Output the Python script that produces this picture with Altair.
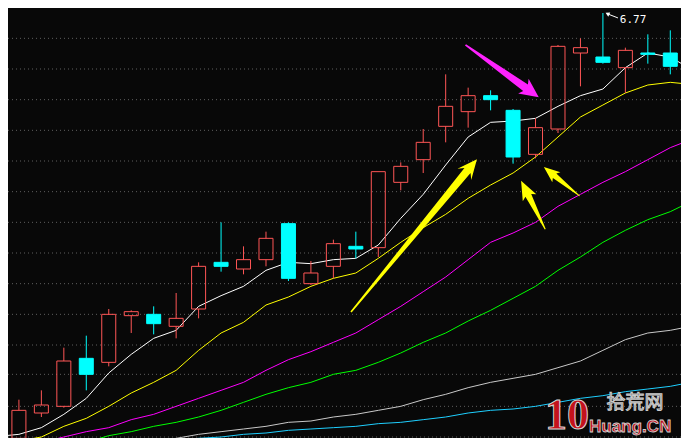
import altair as alt
import pandas as pd

# ---------------- data ----------------
candle_idx = list(range(30))
opens  = [3.58, 3.77, 3.82, 4.18, 4.15, 4.50, 4.51, 4.42, 4.55, 4.90,
          4.85, 4.92, 5.19, 4.74, 4.87, 5.02, 5.01, 5.50, 5.67, 5.92,
          6.03, 6.15, 6.04, 5.71, 5.90, 6.47, 6.44, 6.36, 6.47, 6.47]
closes = [3.79, 3.83, 4.16, 4.06, 4.51, 4.53, 4.44, 4.48, 4.87, 4.87,
          4.92, 5.08, 4.78, 4.82, 5.04, 5.00, 5.58, 5.62, 5.80, 6.07,
          6.15, 6.12, 5.69, 5.91, 6.52, 6.51, 6.40, 6.49, 6.46, 6.37]
highs  = [3.87, 3.94, 4.26, 4.35, 4.55, 4.54, 4.57, 4.67, 4.90, 5.20,
          5.02, 5.13, 5.20, 4.91, 5.07, 5.13, 5.58, 5.65, 5.90, 6.31,
          6.21, 6.19, 6.05, 5.98, 6.53, 6.58, 6.77, 6.51, 6.61, 6.64]
lows   = [3.57, 3.74, 3.81, 3.94, 4.12, 4.37, 4.36, 4.33, 4.48, 4.83,
          4.81, 4.87, 4.76, 4.73, 4.78, 4.93, 4.94, 5.44, 5.57, 5.80,
          5.91, 6.04, 5.64, 5.68, 5.87, 6.22, 6.39, 6.17, 6.39, 6.31]

# moving averages: left edge, candles 0..29, right edge
ma_idx = [-0.614] + list(range(30)) + [29.605]
ma_white   = [3.60, 3.61, 3.66, 3.76, 3.88, 4.07, 4.21, 4.33, 4.39, 4.57, 4.65,
              4.72, 4.84, 4.90, 4.89, 4.92, 4.93, 5.03, 5.23, 5.41, 5.63,
              5.84, 5.95, 5.96, 5.98, 6.07, 6.15, 6.20, 6.36, 6.47, 6.44, 6.38]
ma_yellow  = [3.55, 3.56, 3.59, 3.67, 3.73, 3.82, 3.92, 4.00, 4.09, 4.24, 4.37,
              4.45, 4.58, 4.64, 4.72, 4.78, 4.82, 4.93, 5.05, 5.16, 5.26,
              5.38, 5.48, 5.57, 5.69, 5.84, 5.99, 6.08, 6.17, 6.23, 6.25, 6.24]
ma_magenta = [3.52, 3.54, 3.55, 3.59, 3.63, 3.66, 3.72, 3.76, 3.82, 3.88, 3.94,
              4.00, 4.09, 4.17, 4.23, 4.30, 4.37, 4.47, 4.57, 4.68, 4.79,
              4.92, 5.05, 5.12, 5.20, 5.32, 5.41, 5.50, 5.58, 5.67, 5.76, 5.80]
ma_green   = [3.49, 3.50, 3.52, 3.54, 3.55, 3.60, 3.63, 3.67, 3.70, 3.74, 3.79,
              3.85, 3.91, 3.96, 4.00, 4.06, 4.09, 4.15, 4.22, 4.30, 4.37,
              4.46, 4.54, 4.63, 4.72, 4.84, 4.94, 5.05, 5.14, 5.22, 5.28, 5.33]
ma_gray    = [3.48, 3.49, 3.50, 3.51, 3.52, 3.53, 3.54, 3.55, 3.58, 3.61, 3.63,
              3.65, 3.67, 3.70, 3.71, 3.74, 3.76, 3.79, 3.82, 3.87, 3.91,
              3.96, 4.00, 4.03, 4.06, 4.11, 4.16, 4.24, 4.32, 4.37, 4.39, 4.41]
ma_cyan    = [3.48, 3.49, 3.50, 3.52, 3.52, 3.53, 3.55, 3.55, 3.57, 3.58, 3.59,
              3.61, 3.62, 3.64, 3.65, 3.66, 3.67, 3.69, 3.70, 3.72, 3.74,
              3.77, 3.79, 3.80, 3.82, 3.85, 3.88, 3.90, 3.93, 3.95, 3.97, 3.99]
ma_names  = ["MA5", "MA10", "MA20", "MA30", "MA60", "MA120"]

grid_prices = [6.58, 6.35, 6.12, 5.89, 5.66, 5.43, 5.20, 4.97,
               4.74, 4.51, 4.28, 4.06, 3.82, 3.59]

high_label = ["6.77"]

# ---------------- styling ----------------
BG = "#080808"
RED = "#ff5656"
CYAN = "#00ffff"
MA_COLORS = ["#ffffff", "#ffff00", "#ff00ff", "#00ff00", "#c8c8c8", "#1ecfff"]
W, H = 673, 430
xs = alt.Scale(domain=[-0.2632, 29.254], nice=False, zero=False)
ys = alt.Scale(domain=[3.5825, 6.8075], nice=False, zero=False)

candles = pd.DataFrame({"i": candle_idx, "open": opens, "high": highs,
                        "low": lows, "close": closes})
candles["up"] = candles["close"] >= candles["open"]
candles["top"] = candles[["open", "close"]].max(axis=1)
candles["bot"] = candles[["open", "close"]].min(axis=1)

ma = pd.DataFrame({"i": ma_idx, "MA5": ma_white, "MA10": ma_yellow,
                   "MA20": ma_magenta, "MA30": ma_green, "MA60": ma_gray,
                   "MA120": ma_cyan}).melt("i", var_name="ma", value_name="v")

X = alt.X("i:Q", scale=xs, axis=None)

grid = alt.Chart(pd.DataFrame({"p": grid_prices})).mark_rule(
    color="#5e5e5e", strokeWidth=1, strokeDash=[1, 3]
).encode(y=alt.Y("p:Q", scale=ys, axis=None))

lines = alt.Chart(ma).mark_line(strokeWidth=1, clip=True).encode(
    x=X,
    y=alt.Y("v:Q", scale=ys, axis=None),
    color=alt.Color("ma:N", scale=alt.Scale(domain=ma_names, range=MA_COLORS), legend=None),
    order="i:Q",
)

col = alt.condition("datum.up", alt.value(RED), alt.value(CYAN))
base = alt.Chart(candles)
wick_hi = base.mark_rule(strokeWidth=1).encode(
    x=X, y=alt.Y("high:Q", scale=ys, axis=None), y2="top:Q", color=col)
wick_lo = base.mark_rule(strokeWidth=1).encode(
    x=X, y=alt.Y("bot:Q", scale=ys, axis=None), y2="low:Q", color=col)
bodies = base.mark_bar(width=14, strokeWidth=1).encode(
    x=X, y=alt.Y("open:Q", scale=ys, axis=None), y2="close:Q",
    stroke=col,
    fill=alt.condition("datum.up", alt.value("transparent"), alt.value(CYAN)),
)


def arrow(i, p, path, length, angle, color):
    return alt.Chart(pd.DataFrame({"i": [i], "p": [p]})).mark_point(
        shape=path, size=length * length, angle=angle, filled=True,
        color=color, opacity=1, strokeWidth=0,
    ).encode(x=X, y=alt.Y("p:Q", scale=ys, axis=None))


big_path = "M0,-1L0.09,-0.8L0.04,-0.85L0.008,1L-0.008,1L-0.04,-0.85L-0.09,-0.8Z"
small_path = "M0,-1L0.28,-0.3L0.12,-0.4L0.02,1L-0.02,1L-0.12,-0.4L-0.28,-0.3Z"
mag_path = "M0,-1L0.2,-0.58L0.09,-0.64L0.02,1L-0.02,1L-0.09,-0.64L-0.2,-0.58Z"

arrows = [
    arrow(17.588, 5.101, big_path, 198, 39.5, "#ffff00"),
    arrow(22.895, 5.330, small_path, 54, 333.4, "#ffff00"),
    arrow(24.167, 5.506, small_path, 46, 309, "#ffff00"),
    arrow(21.513, 6.335, mag_path, 90, 125.5, "#ff22ff"),
]

lbl = alt.Chart(pd.DataFrame({"i": [26.754], "p": [6.695], "t": high_label})).mark_text(
    align="left", baseline="alphabetic", font="DejaVu Sans Mono", fontSize=11, color="#ffffff"
).encode(x=X, y=alt.Y("p:Q", scale=ys, axis=None), text="t:N")

lbl_line = alt.Chart(pd.DataFrame({"i": [26.23], "i2": [26.67], "p": [6.762], "p2": [6.733]})).mark_rule(
    color="#ffffff", strokeWidth=1
).encode(x=X, x2="i2:Q", y=alt.Y("p:Q", scale=ys, axis=None), y2="p2:Q")

lbl_head = alt.Chart(pd.DataFrame({"i": [26.2], "p": [6.765]})).mark_point(
    shape="triangle-left", size=22, angle=25, filled=True, color="#ffffff", opacity=1
).encode(x=X, y=alt.Y("p:Q", scale=ys, axis=None))

one = alt.Data(values=[{}])


def wtext(text, x, y, size, font, fill, outline, sw, align="left", weight="bold"):
    return alt.Chart(one).mark_text(
        text=text, align=align, baseline="alphabetic", font=font, fontSize=size,
        fontWeight=weight, fill=fill, stroke=outline, strokeWidth=sw,
    ).encode(x=alt.value(x), y=alt.value(y))


wm = [
    wtext("10", 559, 421, 44, "Liberation Sans Narrow", "#c4121c", "#d4d4d4", 1),
    wtext("拾荒网", 627, 401, 19, "Noto Sans CJK SC", "#505050", "#cccccc", 1, align="center", weight="normal"),
    wtext("Huang.CN", 581, 424, 17, "Liberation Sans", "#c4121c", "#cfcfcf", 0.8),
]
wm[0] = alt.Chart(one).mark_text(
    text="10", align="center", baseline="alphabetic", font="Liberation Sans Narrow",
    fontSize=44, fontWeight="bold", fill="#c4121c", stroke="#d4d4d4", strokeWidth=1,
).encode(x=alt.value(559), y=alt.value(421))

chart = alt.layer(grid, lines, wick_hi, wick_lo, bodies, *arrows, lbl_line, lbl_head, lbl, *wm).properties(
    width=W, height=H, background=BG, padding=0, autosize="none"
).configure_view(stroke=None)

chart.save("out.html", embed_options={"renderer": "svg", "actions": False})
